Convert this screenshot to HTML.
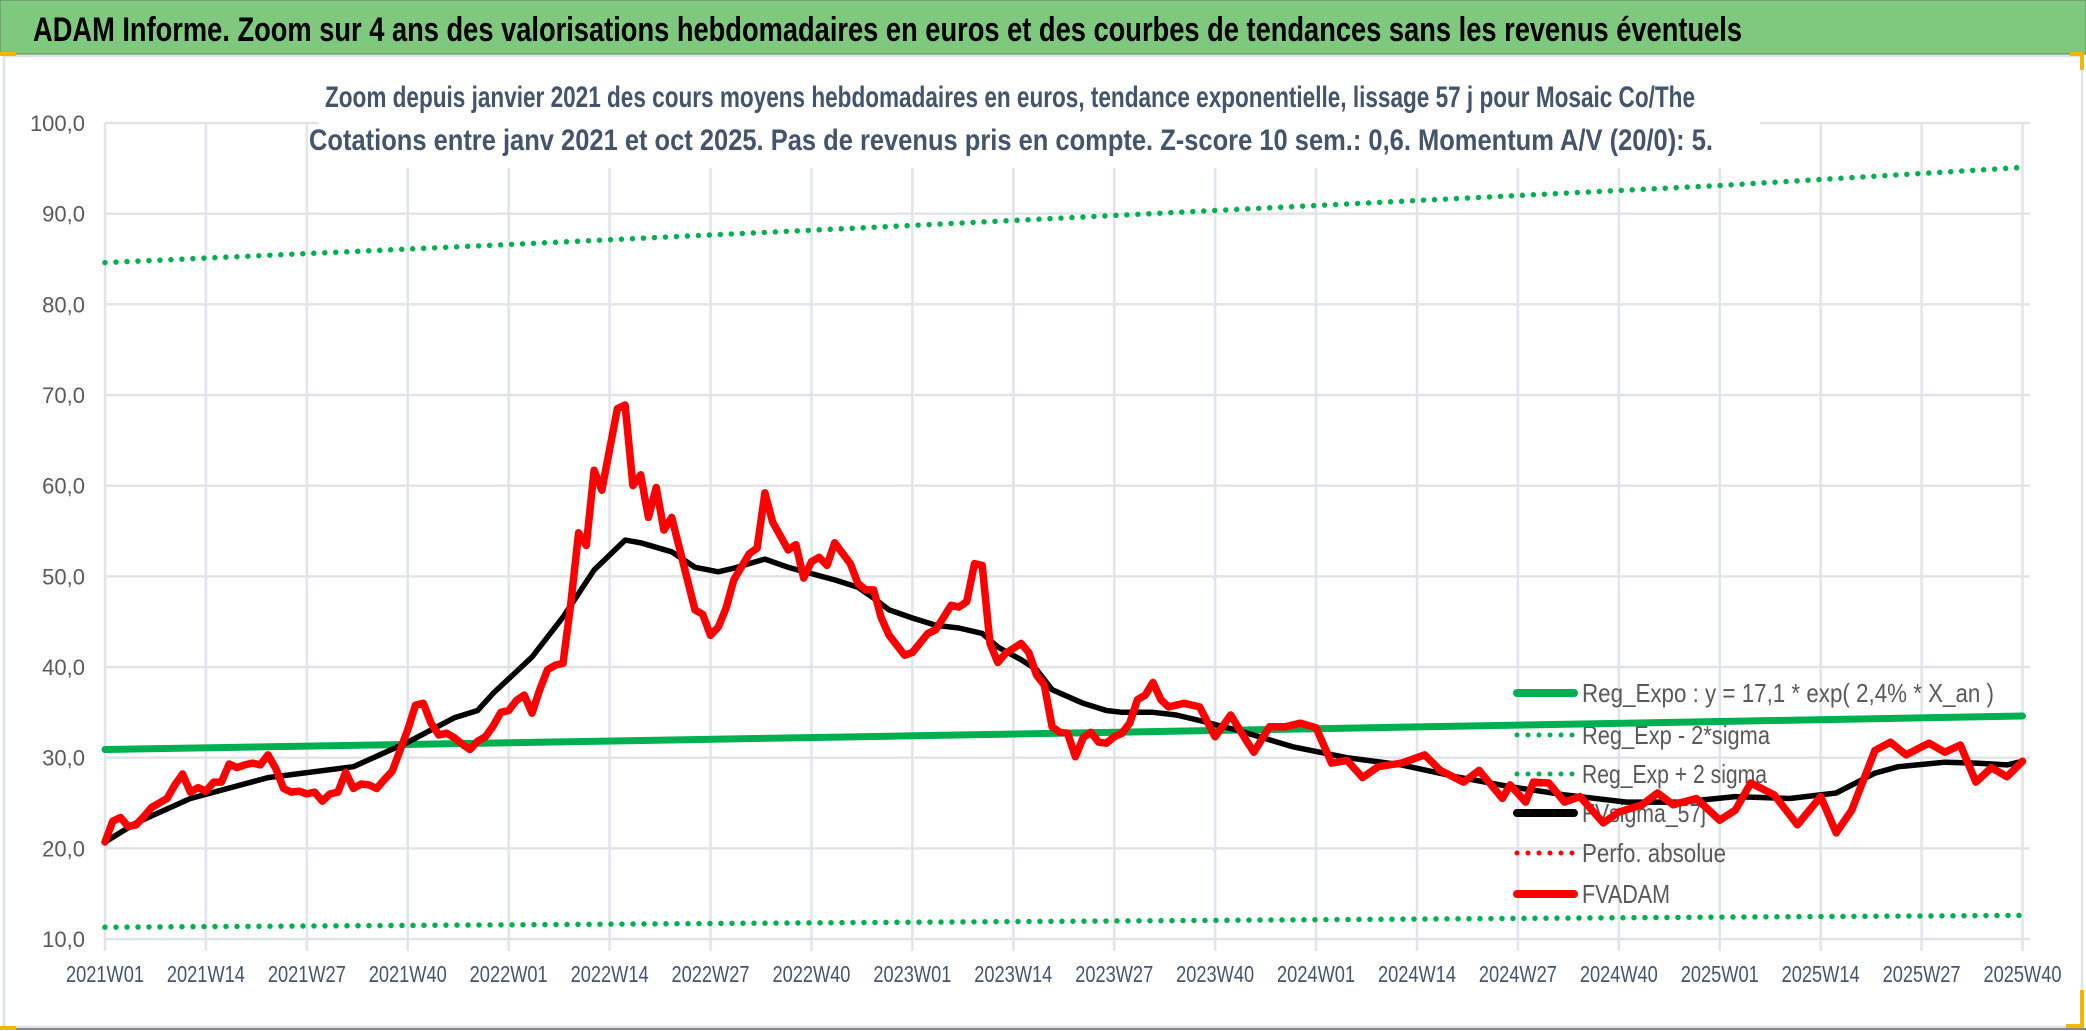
<!DOCTYPE html>
<html><head><meta charset="utf-8"><style>
html,body{margin:0;padding:0;background:#fff;}
svg{display:block;}
text{font-family:"Liberation Sans Narrow","Liberation Sans",sans-serif;}
</style></head><body>
<svg id="c" width="2086" height="1031" viewBox="0 0 2086 1031" xmlns="http://www.w3.org/2000/svg">
<rect x="0" y="0" width="2086" height="1031" fill="#fff"/>
<rect x="0" y="0" width="2086" height="54" fill="#7fc97f" stroke="#6a9a6a" stroke-width="1.5"/>
<text x="33" y="41" font-size="34" font-weight="bold" fill="#000" textLength="1709" lengthAdjust="spacingAndGlyphs">ADAM Informe. Zoom sur 4 ans des valorisations hebdomadaires en euros et des courbes de tendances sans les revenus éventuels</text>
<rect x="4" y="56" width="2078" height="971" fill="#fff" stroke="#dfe2e8" stroke-width="2.5"/>
<line x1="0" y1="1029" x2="2086" y2="1029" stroke="#888" stroke-width="2"/>
<rect x="0" y="52" width="16" height="4" fill="#f2b705"/>
<rect x="0" y="1026" width="16" height="4" fill="#f2b705"/>
<rect x="2070" y="52" width="14" height="4" fill="#f2b705"/><rect x="2080" y="52" width="4" height="18" fill="#f2b705"/>
<rect x="2080" y="990" width="4" height="38" fill="#f2b705"/><rect x="2066" y="1024" width="18" height="4" fill="#f2b705"/>
<g id="grid"></g>
<rect x="319" y="78" width="1441" height="90" fill="#fff"/>
<text x="325" y="107" font-size="30" font-weight="bold" fill="#44546a" textLength="1370" lengthAdjust="spacingAndGlyphs">Zoom depuis janvier 2021 des cours moyens hebdomadaires en euros, tendance exponentielle, lissage 57 j pour Mosaic Co/The</text>
<text x="309" y="150" font-size="30" font-weight="bold" fill="#44546a" textLength="1404" lengthAdjust="spacingAndGlyphs">Cotations entre janv 2021 et oct 2025. Pas de revenus pris en compte. Z-score 10 sem.: 0,6. Momentum A/V (20/0): 5.</text>
<g id="axes"></g>
<g id="legend"></g>
<g id="series"></g>
</svg>
<script>
const xLabels = ["2021W01","2021W14","2021W27","2021W40","2022W01","2022W14","2022W27","2022W40","2023W01","2023W14","2023W27","2023W40","2024W01","2024W14","2024W27","2024W40","2025W01","2025W14","2025W27","2025W40"];
const yTicks = [10,20,30,40,50,60,70,80,90,100];
const nWeeks = 248;
const regWeek = [0,52,104,156,208,247];
const regExpo = [30.9,31.64,32.41,33.19,33.99,34.6];
const regMinus = [11.3,11.57,11.85,12.13,12.42,12.6];
const regPlus = [84.6,86.6,88.7,90.9,93.1,95.1];
const smoothWeek = [0,4,11,21,32,39,45,48,50,55,59,63,67,69,71,73,76,79,81,83,85,88,91,94,97,99,101,104,107,110,113,115,118,120,122,126,129,131,135,138,141,146,153,160,167,174,181,188,196,203,210,217,223,228,231,237,241,245,247];
const smoothVal = [20.7,22.8,25.5,27.8,29.0,31.7,34.4,35.2,37.1,41.1,45.5,50.7,54.0,53.7,53.2,52.7,51.0,50.5,50.9,51.4,51.9,51.0,50.3,49.6,48.8,47.6,46.3,45.4,44.6,44.3,43.7,42.2,40.8,39.7,37.5,36.0,35.2,35.0,35.0,34.7,34.1,33.0,31.2,30.0,29.2,27.9,26.8,25.9,25.1,25.1,25.7,25.5,26.1,28.3,29.0,29.5,29.4,29.2,29.6];
const fvWeek = [0,1,2,3,4,5,6,7,8,9,10,11,12,13,14,15,16,17,18,19,20,21,22,23,24,25,26,27,28,29,30,31,32,33,34,35,36,37,38,39,40,41,42,43,44,45,46,47,48,49,50,51,52,53,54,55,56,57,58,59,60,61,62,63,64,65,66,67,68,69,70,71,72,73,76,77,78,79,80,81,83,84,85,86,88,89,90,91,92,93,94,96,97,98,99,100,101,103,104,106,107,109,110,111,112,113,114,115,116,118,119,120,121,122,123,124,125,126,127,128,129,130,131,132,133,134,135,136,137,139,141,143,145,147,148,150,152,154,156,158,160,162,164,167,170,172,175,177,180,181,183,184,186,188,190,193,195,198,200,202,205,208,210,212,215,218,221,223,225,228,230,232,234,235,237,239,241,243,245,247];
const fvVal = [20.7,23.0,23.4,22.4,22.6,23.5,24.5,25.0,25.5,27.0,28.2,26.2,26.7,26.3,27.3,27.3,29.3,28.9,29.2,29.4,29.2,30.3,28.8,26.6,26.2,26.3,26.0,26.2,25.2,26.0,26.2,28.4,26.6,27.1,27.0,26.6,27.6,28.5,30.8,33.1,35.8,36.0,33.8,32.5,32.7,32.2,31.5,30.9,31.8,32.3,33.5,35.0,35.2,36.3,36.9,34.9,37.5,39.7,40.2,40.4,47.0,54.8,53.4,61.7,59.5,64.0,68.5,68.9,60.0,61.2,56.5,59.8,55.1,56.5,46.3,45.8,43.5,44.4,46.5,49.6,52.5,53.1,59.2,56.0,52.9,53.5,49.8,51.6,52.1,51.2,53.7,51.4,49.2,48.5,48.5,45.4,43.5,41.3,41.6,43.7,44.1,46.8,46.6,47.2,51.4,51.2,42.6,40.5,41.5,42.6,41.6,39.1,38.0,33.4,32.8,32.7,30.1,32.2,32.8,31.7,31.6,32.3,32.7,33.8,36.4,36.9,38.3,36.4,35.6,36.0,35.6,32.3,34.7,31.9,30.6,33.4,33.4,33.8,33.3,29.4,29.7,27.8,29.0,29.4,30.3,28.6,27.3,28.6,25.5,27.0,25.1,27.3,27.2,25.1,25.7,22.8,24.0,24.8,26.1,24.8,25.5,23.1,24.2,27.2,25.9,22.6,25.7,21.7,24.2,30.8,31.7,30.3,31.2,31.6,30.6,31.4,27.3,28.9,27.9,29.6];

const X0 = 105, X1 = 2022.5, YB = 939, YPer10 = 90.67, GX1 = 2030;
function xs(i){ return X0 + i*(X1-X0)/(nWeeks-1); }
function ys(v){ return YB - (v-10)*YPer10/10; }
const NS = "http://www.w3.org/2000/svg";
function mk(tag, attrs, parent){ const e=document.createElementNS(NS,tag); for(const k in attrs) e.setAttribute(k,attrs[k]); parent.appendChild(e); return e; }

const grid = document.getElementById('grid');
yTicks.forEach(v=>{
  const l = mk('line',{x1:X0,y1:ys(v),x2:GX1,y2:ys(v),stroke:'#e1e4ea','stroke-width':2.5},grid);
  
  
});
xLabels.forEach((s,k)=>{
  const x = xs(k*13);
  const l = mk('line',{x1:x,y1:ys(100),x2:x,y2:YB+12,stroke:'#e1e4ea','stroke-width':2.5},grid);
  
  
});
const axes = document.getElementById('axes');
yTicks.forEach(v=>{
  const t = mk('text',{x:85,y:ys(v)+8,'font-size':22,fill:'#595959','text-anchor':'end'},axes);
  t.textContent = v.toFixed(1).replace('.',',');
  
  
});
xLabels.forEach((s,k)=>{
  const t = mk('text',{x:xs(k*13),y:982,'font-size':23,fill:'#44546a','text-anchor':'middle',textLength:78,lengthAdjust:'spacingAndGlyphs'},axes);
  t.textContent = s;
  
  
});

const legend = document.getElementById('legend');
const legNames = ["Reg_Expo : y = 17,1 * exp( 2,4% *  X_an )","Reg_Exp - 2*sigma","Reg_Exp + 2 sigma","FVsigma_57j","Perfo. absolue","FVADAM"];
const legColors = ["#00b050","#00b050","#00b050","#000000","#ff0000","#ff0000"];
const legDotted = [false,true,true,false,true,false];
const legWidths = [412,188,185,124,144,88];
const legY = [693,735,774,813,853,894];
legNames.forEach((n,i)=>{
  const l = mk('line',{x1:1517,y1:legY[i],x2:1574,y2:legY[i],stroke:legColors[i],'stroke-width':legDotted[i]?5:8,'stroke-linecap':'round'},legend);
  if(legDotted[i]) l.setAttribute('stroke-dasharray','0 11');
  
  
  const t = mk('text',{x:1582,y:legY[i]+9,'font-size':26,fill:'#595959',textLength:legWidths[i],lengthAdjust:'spacingAndGlyphs'},legend);
  t.textContent = n;
  
  
});

const series = document.getElementById('series');
function path(wk, vals, attrs, name){
  let d=''; wk.forEach((w,i)=>{ d += (i?'L':'M') + xs(w).toFixed(1) + ' ' + ys(vals[i]).toFixed(1); });
  const p = mk('path',Object.assign({d:d,fill:'none','stroke-linejoin':'round','stroke-linecap':'round'},attrs),series);
  
  
  return p;
}
path(regWeek, regPlus, {stroke:'#00b050','stroke-width':5.5,'stroke-dasharray':'0 11'}, 'reg-plus-2sigma-line');
path(regWeek, regMinus, {stroke:'#00b050','stroke-width':5.5,'stroke-dasharray':'0 11'}, 'reg-minus-2sigma-line');
path(regWeek, regExpo, {stroke:'#00b050','stroke-width':7}, 'reg-expo-line');
path(smoothWeek, smoothVal, {stroke:'#000','stroke-width':5.5}, 'fvsigma-57j-line');
path(fvWeek, fvVal, {stroke:'#ff0000','stroke-width':7.5}, 'fvadam-line');
</script>
</body></html>
